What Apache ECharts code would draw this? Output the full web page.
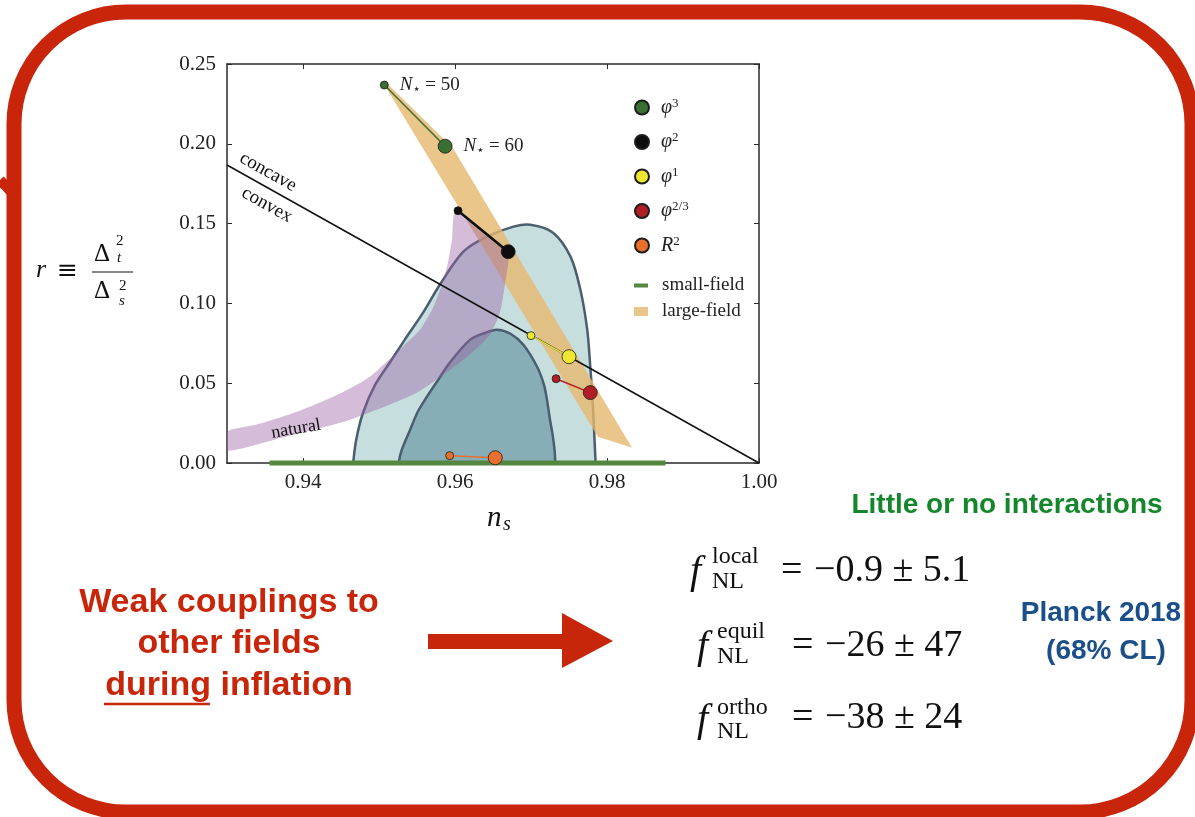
<!DOCTYPE html>
<html>
<head>
<meta charset="utf-8">
<script src="https://cdn.jsdelivr.net/npm/echarts@6/dist/echarts.min.js"></script>
<style>
  html, body { margin: 0; padding: 0; background: #ffffff; }
  #chart { width: 1195px; height: 817px; }
</style>
</head>
<body>
<div id="chart"></div>
<script>
// ---- axis ticks ----
const nsTicks = [0.94, 0.96, 0.98, 1.00];

// ---- monomial / R^2 predictions, N* = 50 (first) and N* = 60 (second) ----
const nStar = [50, 60];
const phi3 = [[0.9507, 0.2368], [0.9587, 0.1985]];
const phi2 = [[0.9604, 0.1581], [0.9670, 0.1324]];
const phi1 = [[0.9700, 0.0798], [0.9750, 0.0666]];
const phi23 = [[0.9733, 0.0528], [0.9778, 0.0441]];
const starobinsky = [[0.9593, 0.0046], [0.9653, 0.0033]];

// concave / convex boundary, r = (8/3)(1 - n_s)
const convexBoundary = [[0.93, 0.1867], [1.00, 0.0]];

// small-field region along r ~ 0
const smallField = [[0.9356, 0.0], [0.9877, 0.0]];

// large-field band: N* = 50 edge, small-p cut, N* = 60 edge, phi^3 cap
const largeField = [
  [0.9507, 0.2370], [0.9788, 0.0165], [0.9833, 0.0096], [0.9597, 0.1976], [0.9511, 0.2377]
];

// natural inflation band (upper edge, then lower edge back)
const naturalBand = [
  [0.9300, 0.0196], [0.9343, 0.0246], [0.9396, 0.0328], [0.9448, 0.0434],
  [0.9488, 0.0541], [0.9527, 0.0710], [0.9554, 0.0835], [0.9570, 0.0961],
  [0.9583, 0.1117], [0.9591, 0.1261], [0.9596, 0.1399], [0.9601, 0.1575],
  [0.9669, 0.1318], [0.9666, 0.1130], [0.9659, 0.0942], [0.9646, 0.0804],
  [0.9616, 0.0666], [0.9550, 0.0441], [0.9462, 0.0271], [0.9373, 0.0159],
  [0.9300, 0.0077]
];

// Planck 2018 constraints: 95% and 68% CL contours
const planck95 = [
  [0.9464, -0.010], [0.9466, 0.0], [0.9470, 0.0146], [0.9479, 0.0315], [0.9495, 0.0491],
  [0.9514, 0.0628], [0.9534, 0.0773], [0.9558, 0.0942], [0.9580, 0.1117],
  [0.9611, 0.1324], [0.9642, 0.1418], [0.9677, 0.1481], [0.9699, 0.1493],
  [0.9729, 0.1443], [0.9752, 0.1293], [0.9765, 0.1086], [0.9774, 0.0835],
  [0.9778, 0.0603], [0.9781, 0.0397], [0.9783, 0.0209], [0.9785, 0.0], [0.9786, -0.010]
];
const planck68 = [
  [0.9525, -0.010], [0.9526, 0.0], [0.9530, 0.0083], [0.9541, 0.0209], [0.9551, 0.0321],
  [0.9563, 0.0415], [0.9578, 0.0522], [0.9593, 0.0628], [0.9620, 0.0773],
  [0.9640, 0.0816], [0.9655, 0.0835], [0.9673, 0.0810], [0.9690, 0.0741],
  [0.9708, 0.0603], [0.9717, 0.0491], [0.9721, 0.0397], [0.9725, 0.0271],
  [0.9728, 0.0190], [0.9731, 0.0083], [0.9732, 0.0], [0.9733, -0.010]
];

const SERIF = '"Liberation Serif", "DejaVu Serif", serif';
const SANS = '"Liberation Sans", Arial, sans-serif';

function regionSeries(name, pts, fill, stroke, lineWidth, smooth, z) {
  return {
    type: 'custom', name, coordinateSystem: 'cartesian2d',
    data: pts, encode: { x: 0, y: 1 }, clip: true, silent: true, z,
    itemStyle: { color: fill },
    animation: false,
    renderItem(params, api) {
      if (params.dataIndex !== 0) return null;
      return {
        type: 'polygon',
        shape: { points: pts.map(p => api.coord(p)), smooth },
        style: { fill, stroke: stroke || null, lineWidth: lineWidth || 0 }
      };
    }
  };
}

function modelSeries(name, data, color, lineWidth, extra) {
  return Object.assign({
    type: 'line', name, data, z: 6, clip: false, silent: true, animation: false,
    symbol: 'circle',
    symbolSize: (v, p) => (p.dataIndex === 0 ? 8 : 14),
    lineStyle: { color, width: lineWidth },
    itemStyle: { color, borderColor: '#1d1d1d', borderWidth: 0.8 }
  }, extra || {});
}

const legendNames = {
  phi3: '{g|φ}{s|3}', phi2: '{g|φ}{s|2}', phi1: '{g|φ}{s|1}',
  phi23: '{g|φ}{s|2/3}', R2: '{g|R}{s|2}'
};
const legendRich = {
  g: { fontFamily: SERIF, fontStyle: 'italic', fontSize: 20, lineHeight: 21, color: '#222' },
  s: { fontFamily: SERIF, fontSize: 13, lineHeight: 12, verticalAlign: 'top', color: '#222' }
};

const chart = echarts.init(document.getElementById('chart'), null, { renderer: 'canvas' });

const option = {
  backgroundColor: '#ffffff',
  animation: false,
  grid: { left: 227, top: 64, width: 532, height: 399, containLabel: false },
  xAxis: [
    {
      type: 'value', min: 0.93, max: 1.00, position: 'bottom',
      axisLine: { show: true, onZero: false, lineStyle: { color: '#2a2a2a', width: 1.5 } },
      axisTick: { show: true, inside: true, length: 5, customValues: nsTicks, lineStyle: { color: '#2a2a2a' } },
      axisLabel: { customValues: nsTicks, margin: 9, formatter: v => v.toFixed(2),
        fontFamily: SERIF, fontSize: 21, color: '#222' },
      splitLine: { show: false }
    },
    {
      type: 'value', min: 0.93, max: 1.00, position: 'top',
      axisLine: { show: true, onZero: false, lineStyle: { color: '#2a2a2a', width: 1.5 } },
      axisTick: { show: true, inside: true, length: 5, customValues: nsTicks, lineStyle: { color: '#2a2a2a' } },
      axisLabel: { show: false }, splitLine: { show: false }
    }
  ],
  yAxis: [
    {
      type: 'value', min: 0, max: 0.25, interval: 0.05, position: 'left',
      axisLine: { show: true, onZero: false, lineStyle: { color: '#2a2a2a', width: 1.5 } },
      axisTick: { show: true, inside: true, length: 5, lineStyle: { color: '#2a2a2a' } },
      axisLabel: { margin: 11, formatter: v => v.toFixed(2), fontFamily: SERIF, fontSize: 21, color: '#222' },
      splitLine: { show: false }
    },
    {
      type: 'value', min: 0, max: 0.25, interval: 0.05, position: 'right',
      axisLine: { show: true, onZero: false, lineStyle: { color: '#2a2a2a', width: 1.5 } },
      axisTick: { show: true, inside: true, length: 5, lineStyle: { color: '#2a2a2a' } },
      axisLabel: { show: false }, splitLine: { show: false }
    }
  ],
  legend: [
    {
      orient: 'vertical', left: 629, top: 92, itemWidth: 14, itemHeight: 14, itemGap: 14,
      icon: 'circle', selectedMode: false,
      data: ['phi3', 'phi2', 'phi1', 'phi23', 'R2'],
      formatter: n => legendNames[n],
      textStyle: { padding: [0, 0, 0, 7], rich: legendRich }
    },
    {
      orient: 'vertical', left: 629, top: 271, itemWidth: 14, itemHeight: 4, selectedMode: false,
      icon: 'rect', data: ['small-field'],
      textStyle: { fontFamily: SERIF, fontSize: 19, lineHeight: 18, color: '#222', padding: [0, 0, 0, 9] }
    },
    {
      orient: 'vertical', left: 629, top: 297, itemWidth: 14, itemHeight: 9, selectedMode: false,
      icon: 'rect', data: ['large-field'],
      textStyle: { fontFamily: SERIF, fontSize: 19, lineHeight: 18, color: '#222', padding: [0, 0, 0, 9] }
    }
  ],
  series: [
    regionSeries('planck95', planck95, '#c6dede', '#4a5e70', 2.5, 0.3, 1),
    regionSeries('planck68', planck68, '#87adb6', '#4a5e70', 2.5, 0.3, 1),
    regionSeries('large-field', largeField, 'rgba(230,184,110,0.80)', null, 0, 0, 2),
    regionSeries('natural', naturalBand, 'rgba(155,95,165,0.42)', null, 0, 0.2, 3),
    {
      type: 'line', name: 'small-field', data: smallField, z: 4, clip: false, silent: true,
      symbol: 'none', lineStyle: { color: '#55873f', width: 5 }, itemStyle: { color: '#55873f' }
    },
    {
      type: 'line', name: 'boundary', data: convexBoundary, z: 5, silent: true,
      symbol: 'none', lineStyle: { color: '#111', width: 1.5 }
    },
    modelSeries('phi3', phi3, '#3b6e32', 1.5, {
      label: {
        show: true, position: 'right', distance: 11,
        formatter: p => '{n|N}{st|⋆}{e| = ' + nStar[p.dataIndex] + '}',
        rich: {
          n: { fontFamily: SERIF, fontStyle: 'italic', fontSize: 19, lineHeight: 22, color: '#222' },
          st: { fontFamily: '"DejaVu Sans", sans-serif', fontSize: 13, lineHeight: 12, verticalAlign: 'bottom', color: '#222' },
          e: { fontFamily: SERIF, fontSize: 19, lineHeight: 22, color: '#222' }
        }
      }
    }),
    modelSeries('phi2', phi2, '#0d0d0d', 2.5),
    modelSeries('phi1', phi1, '#eee633', 1.5),
    modelSeries('phi23', phi23, '#b21e26', 1.5),
    modelSeries('R2', starobinsky, '#e8702c', 1.5)
  ],
  graphic: [
    // rounded red frame
    { type: 'rect', z: 100, shape: { x: 14, y: 12, width: 1178, height: 800, r: 112 },
      style: { fill: 'transparent', stroke: '#c8250a', lineWidth: 15 } },
    { type: 'line', z: 100, shape: { x1: 0, y1: 180, x2: 13, y2: 194 },
      style: { stroke: '#c8250a', lineWidth: 10 } },

    // region annotations
    { type: 'text', z: 50, x: 268, y: 172, rotation: -0.51,
      style: { text: 'concave', font: '19px ' + SERIF, fill: '#111', align: 'center', verticalAlign: 'middle' } },
    { type: 'text', z: 50, x: 267, y: 205, rotation: -0.51,
      style: { text: 'convex', font: '19px ' + SERIF, fill: '#111', align: 'center', verticalAlign: 'middle' } },
    { type: 'text', z: 50, x: 296, y: 429, rotation: 0.17,
      style: { text: 'natural', font: '18px ' + SERIF, fill: '#111', align: 'center', verticalAlign: 'middle' } },

    // x axis title n_s
    { type: 'text', z: 50, x: 487, y: 518,
      style: { text: 'n', font: 'italic 29px ' + SERIF, fill: '#111', align: 'left', verticalAlign: 'middle' } },
    { type: 'text', z: 50, x: 503, y: 525,
      style: { text: 's', font: 'italic 20px ' + SERIF, fill: '#111', align: 'left', verticalAlign: 'middle' } },

    // y axis title r = Delta_t^2 / Delta_s^2
    { type: 'text', z: 50, x: 36, y: 270,
      style: { text: 'r', font: 'italic 26px ' + SERIF, fill: '#111', align: 'left', verticalAlign: 'middle' } },
    { type: 'text', z: 50, x: 57, y: 271,
      style: { text: '≡', font: '25px "DejaVu Serif", serif', fill: '#111', align: 'left', verticalAlign: 'middle' } },
    { type: 'text', z: 50, x: 94, y: 254,
      style: { text: 'Δ', font: '25px ' + SERIF, fill: '#111', align: 'left', verticalAlign: 'middle' } },
    { type: 'text', z: 50, x: 116, y: 241,
      style: { text: '2', font: '15px ' + SERIF, fill: '#111', align: 'left', verticalAlign: 'middle' } },
    { type: 'text', z: 50, x: 117, y: 258,
      style: { text: 't', font: 'italic 15px ' + SERIF, fill: '#111', align: 'left', verticalAlign: 'middle' } },
    { type: 'line', z: 50, shape: { x1: 92, y1: 272, x2: 133, y2: 272 }, style: { stroke: '#111', lineWidth: 1.2 } },
    { type: 'text', z: 50, x: 94, y: 291,
      style: { text: 'Δ', font: '25px ' + SERIF, fill: '#111', align: 'left', verticalAlign: 'middle' } },
    { type: 'text', z: 50, x: 119, y: 286,
      style: { text: '2', font: '15px ' + SERIF, fill: '#111', align: 'left', verticalAlign: 'middle' } },
    { type: 'text', z: 50, x: 119, y: 301,
      style: { text: 's', font: 'italic 15px ' + SERIF, fill: '#111', align: 'left', verticalAlign: 'middle' } },

    // left message
    { type: 'text', z: 50, x: 229, y: 603,
      style: { text: 'Weak couplings to', font: 'bold 34px ' + SANS, fill: '#c8260a', align: 'center', verticalAlign: 'middle' } },
    { type: 'text', z: 50, x: 229, y: 644,
      style: { text: 'other fields', font: 'bold 34px ' + SANS, fill: '#c8260a', align: 'center', verticalAlign: 'middle' } },
    { type: 'text', z: 50, x: 229, y: 686,
      style: { text: 'during inflation', font: 'bold 34px ' + SANS, fill: '#c8260a', align: 'center', verticalAlign: 'middle' } },
    { type: 'line', z: 50, shape: { x1: 104, y1: 704, x2: 210, y2: 704 }, style: { stroke: '#c8260a', lineWidth: 2.5 } },
    { type: 'polygon', z: 50,
      shape: { points: [[428, 634], [562, 634], [562, 613], [613, 641], [562, 668], [562, 649], [428, 649]] },
      style: { fill: '#c8260a' } },

    // right message
    { type: 'text', z: 50, x: 1007, y: 505,
      style: { text: 'Little or no interactions', font: 'bold 28px ' + SANS, fill: '#14872b', align: 'center', verticalAlign: 'middle' } },
    { type: 'text', z: 50, x: 1101, y: 613,
      style: { text: 'Planck 2018', font: 'bold 28px ' + SANS, fill: '#1b4f8a', align: 'center', verticalAlign: 'middle' } },
    { type: 'text', z: 50, x: 1106, y: 651,
      style: { text: '(68% CL)', font: 'bold 28px ' + SANS, fill: '#1b4f8a', align: 'center', verticalAlign: 'middle' } },

    // f_NL constraints
    { type: 'text', z: 50, x: 690, y: 572, style: { text: 'f', font: 'italic 40px ' + SERIF, fill: '#111', verticalAlign: 'middle' } },
    { type: 'text', z: 50, x: 712, y: 557, style: { text: 'local', font: '24px ' + SERIF, fill: '#111', verticalAlign: 'middle' } },
    { type: 'text', z: 50, x: 712, y: 582, style: { text: 'NL', font: '24px ' + SERIF, fill: '#111', verticalAlign: 'middle' } },
    { type: 'text', z: 50, x: 781, y: 571, style: { text: '=', font: '38px ' + SERIF, fill: '#111', verticalAlign: 'middle' } },
    { type: 'text', z: 50, x: 814, y: 571, style: { text: '−0.9 ± 5.1', font: '38px ' + SERIF, fill: '#111', verticalAlign: 'middle' } },

    { type: 'text', z: 50, x: 697, y: 647, style: { text: 'f', font: 'italic 40px ' + SERIF, fill: '#111', verticalAlign: 'middle' } },
    { type: 'text', z: 50, x: 717, y: 632, style: { text: 'equil', font: '24px ' + SERIF, fill: '#111', verticalAlign: 'middle' } },
    { type: 'text', z: 50, x: 717, y: 657, style: { text: 'NL', font: '24px ' + SERIF, fill: '#111', verticalAlign: 'middle' } },
    { type: 'text', z: 50, x: 792, y: 646, style: { text: '=', font: '38px ' + SERIF, fill: '#111', verticalAlign: 'middle' } },
    { type: 'text', z: 50, x: 825, y: 646, style: { text: '−26 ± 47', font: '38px ' + SERIF, fill: '#111', verticalAlign: 'middle' } },

    { type: 'text', z: 50, x: 697, y: 720, style: { text: 'f', font: 'italic 40px ' + SERIF, fill: '#111', verticalAlign: 'middle' } },
    { type: 'text', z: 50, x: 717, y: 708, style: { text: 'ortho', font: '24px ' + SERIF, fill: '#111', verticalAlign: 'middle' } },
    { type: 'text', z: 50, x: 717, y: 732, style: { text: 'NL', font: '24px ' + SERIF, fill: '#111', verticalAlign: 'middle' } },
    { type: 'text', z: 50, x: 792, y: 718, style: { text: '=', font: '38px ' + SERIF, fill: '#111', verticalAlign: 'middle' } },
    { type: 'text', z: 50, x: 825, y: 718, style: { text: '−38 ± 24', font: '38px ' + SERIF, fill: '#111', verticalAlign: 'middle' } }
  ]
};

chart.setOption(option);
</script>
</body>
</html>
